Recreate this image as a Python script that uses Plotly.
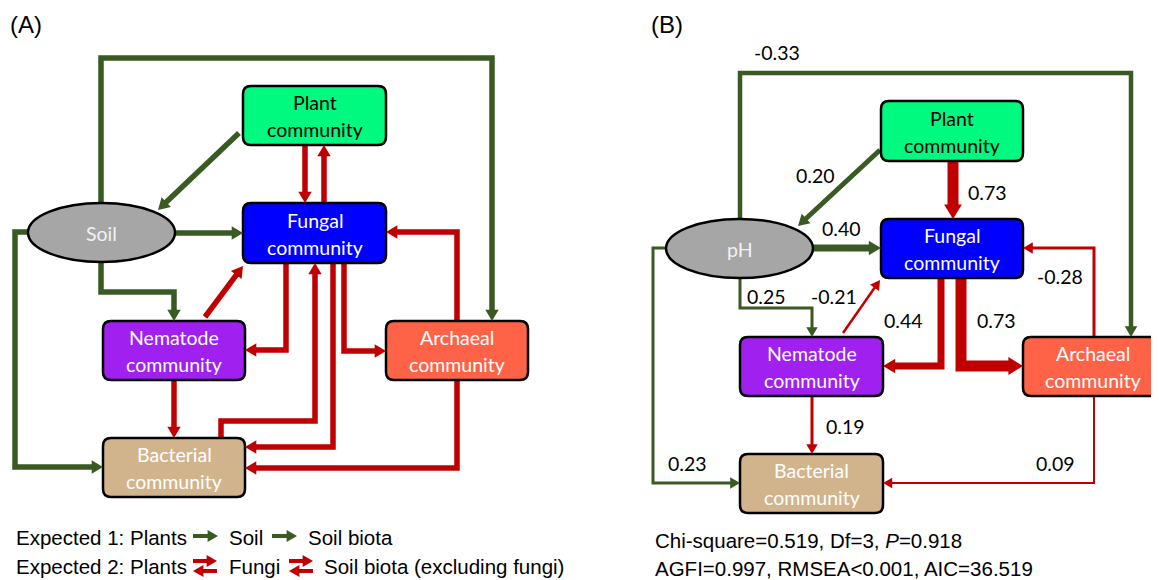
import plotly.graph_objects as go

# ---------------- data ----------------
panel_titles = ["(A)", "(B)"]
node_keys = ["plant", "fungal", "soil", "nematode", "archaeal", "bacterial"]
node_line1 = ["Plant", "Fungal", "Soil", "Nematode", "Archaeal", "Bacterial"]
node_line2 = ["community", "community", "", "community", "community", "community"]
node_line1_B = ["Plant", "Fungal", "pH", "Nematode", "Archaeal", "Bacterial"]

# Panel B standardized path coefficients (edge order below)
coef_B = [-0.33, 0.20, 0.40, 0.25, 0.23, 0.73, -0.21, 0.44, 0.73, -0.28, 0.19, 0.09]

legend_row1 = ["Expected 1: Plants", "Soil", "Soil biota"]
legend_row2 = ["Expected 2: Plants", "Fungi", "Soil biota (excluding fungi)"]

fit_chi_square = 0.519
fit_df = 3
fit_p = 0.918
fit_agfi = 0.997
fit_rmsea = "<0.001"
fit_aic = 36.519

# ---------------- styles / layout geometry ----------------
GREEN = "#3A5A24"
RED = "#C00000"
node_fill = {"plant": "#00FA80", "fungal": "#0000FF", "soil": "#A6A6A6",
             "nematode": "#A020F0", "archaeal": "#FF6347", "bacterial": "#D2B48C"}
node_text_color = {"plant": "black", "fungal": "white", "soil": "#F2F2F2",
                   "nematode": "white", "archaeal": "white", "bacterial": "white"}

boxes_A = {"plant": (243, 86, 386, 145), "fungal": (243, 203, 386, 263),
           "soil": (28, 203, 175, 262), "nematode": (103, 321, 245, 380),
           "archaeal": (386, 321, 528, 380), "bacterial": (103, 438, 245, 497)}
boxes_B = {"plant": (881, 101, 1023, 161), "fungal": (881, 219, 1023, 278),
           "soil": (666, 219, 813, 278), "nematode": (740, 337, 883, 396),
           "archaeal": (1023, 337, 1163, 396), "bacterial": (740, 454, 883, 513)}

edges_A = [
    (GREEN, [(101, 205), (101, 58), (492, 58), (492, 321)]),
    (GREEN, [(239, 133), (158, 210)]),
    (GREEN, [(175, 233), (243, 233)]),
    (GREEN, [(101, 260), (101, 292), (174, 292), (174, 321)]),
    (GREEN, [(29, 232), (15, 232), (15, 467), (103, 467)]),
    (RED, [(305, 145), (305, 203)]),
    (RED, [(324, 203), (324, 145)]),
    (RED, [(205, 317), (243, 266)]),
    (RED, [(286, 263), (286, 350), (245, 350)]),
    (RED, [(221, 438), (221, 421), (315, 421), (315, 263)]),
    (RED, [(333, 263), (333, 447), (245, 447)]),
    (RED, [(344, 263), (344, 351), (386, 351)]),
    (RED, [(457, 321), (457, 232), (386, 232)]),
    (RED, [(457, 380), (457, 468), (245, 468)]),
    (RED, [(174, 380), (174, 438)]),
]
width_A = 5.5

# panel B edges: colour, width, path, label position
edges_B = [
    (GREEN, 4.5, [(740, 221), (740, 73), (1131, 73), (1131, 337)], (777, 52)),
    (GREEN, 5, [(880, 150), (798, 226)], (815, 175)),
    (GREEN, 7, [(812, 248), (881, 248)], (841, 228)),
    (GREEN, 3, [(740, 276), (740, 308), (812, 308), (812, 337)], (766, 296)),
    (GREEN, 3, [(667, 248), (653, 248), (653, 483), (740, 483)], (687, 463)),
    (RED, 11, [(953, 161), (953, 219)], (987, 192)),
    (RED, 2.5, [(843, 333), (880, 280)], (834, 296)),
    (RED, 7, [(941, 278), (941, 366), (883, 366)], (903, 320)),
    (RED, 11, [(961, 278), (961, 366), (1023, 366)], (996, 320)),
    (RED, 3, [(1094, 337), (1094, 248), (1023, 248)], (1060, 276)),
    (RED, 3, [(812, 396), (812, 454)], (845, 426)),
    (RED, 2, [(1094, 396), (1094, 483), (883, 483)], (1055, 463)),
]

BOX_FONT = "Lato, 'Open Sans', sans-serif"
ARIAL = "Liberation Sans, Arial, sans-serif"

# the page body adds an 8 px margin; shift the data window to compensate
PAGE_OFFSET = 8
W, H = 1159, 580

shapes = []
annotations = []


def head_dims(w):
    return 8 + 0.6 * w, 4.5 + 0.4 * w


def add_arrow(pts, color, w, layer_list):
    L, hw = head_dims(w)
    (xa, ya), (xb, yb) = pts[-2], pts[-1]
    dx, dy = xb - xa, yb - ya
    n = (dx * dx + dy * dy) ** 0.5
    ux, uy = dx / n, dy / n
    end = (xb - ux * L * 0.7, yb - uy * L * 0.7)
    line_pts = list(pts[:-1]) + [end]
    d = "M " + " L ".join(f"{x:.2f},{y:.2f}" for x, y in line_pts)
    shapes.append(dict(type="path", path=d, xref="x", yref="y",
                       line=dict(color=color, width=w), fillcolor="rgba(0,0,0,0)"))
    bx, by = xb - ux * L, yb - uy * L
    px, py = -uy, ux
    tri = (f"M {xb:.2f},{yb:.2f} L {bx + px * hw:.2f},{by + py * hw:.2f} "
           f"L {bx - px * hw:.2f},{by - py * hw:.2f} Z")
    layer_list.append(dict(type="path", path=tri, xref="x", yref="y",
                           line=dict(color=color, width=0), fillcolor=color))


def rounded_rect(x0, y0, x1, y1, r=8):
    return (f"M {x0 + r},{y0} L {x1 - r},{y0} Q {x1},{y0} {x1},{y0 + r} "
            f"L {x1},{y1 - r} Q {x1},{y1} {x1 - r},{y1} L {x0 + r},{y1} "
            f"Q {x0},{y1} {x0},{y1 - r} L {x0},{y0 + r} Q {x0},{y0} {x0 + r},{y0} Z")


def add_nodes(boxes, line1):
    for key, l1, l2 in zip(node_keys, line1, node_line2):
        x0, y0, x1, y1 = boxes[key]
        if key == "soil":
            shapes.append(dict(type="circle", xref="x", yref="y", x0=x0, y0=y0, x1=x1, y1=y1,
                               fillcolor=node_fill[key], line=dict(color="black", width=2.5)))
        else:
            shapes.append(dict(type="path", xref="x", yref="y", path=rounded_rect(x0, y0, x1, y1),
                               fillcolor=node_fill[key], line=dict(color="black", width=2.5)))
        cx, cy = (x0 + x1) / 2, (y0 + y1) / 2
        fnt = dict(family=BOX_FONT, size=19.5, color=node_text_color[key])
        if l2:
            annotations.append(dict(x=cx, y=cy - 13, text=l1, showarrow=False, xref="x", yref="y",
                                    font=fnt, xanchor="center", yanchor="middle"))
            annotations.append(dict(x=cx, y=cy + 14, text=l2, showarrow=False, xref="x", yref="y",
                                    font=fnt, xanchor="center", yanchor="middle"))
        else:
            annotations.append(dict(x=cx, y=cy + 1, text=l1, showarrow=False, xref="x", yref="y",
                                    font=fnt, xanchor="center", yanchor="middle"))


heads = []
# Panel A
for color, pts in edges_A:
    add_arrow(pts, color, width_A, heads)
add_nodes(boxes_A, node_line1)

# Panel B
for (color, w, pts, lab), v in zip(edges_B, coef_B):
    add_arrow(pts, color, w, heads)
    annotations.append(dict(x=lab[0], y=lab[1], text=f"{v:.2f}", showarrow=False, xref="x", yref="y",
                            font=dict(family=BOX_FONT, size=19.5, color="black"),
                            xanchor="center", yanchor="middle"))
add_nodes(boxes_B, node_line1_B)

shapes.extend(heads)

# Legend arrows (panel A)
leg_heads = []
for x0, x1 in [(193, 218), (272, 297)]:
    add_arrow([(x0, 536), (x1, 536)], GREEN, 4, leg_heads)
for x0, x1 in [(193, 217), (289, 313)]:
    add_arrow([(x0, 561), (x1, 561)], RED, 4, leg_heads)
    add_arrow([(x1, 571), (x0, 571)], RED, 4, leg_heads)
shapes.extend(leg_heads)

leg_x = [14, 227, 306]
for txt, x in zip(legend_row1, leg_x):
    annotations.append(dict(x=x, y=537, text=txt, showarrow=False, xref="x", yref="y",
                            font=dict(family=ARIAL, size=20.5, color="black"),
                            xanchor="left", yanchor="middle"))
leg_x2 = [14, 227, 322]
for txt, x in zip(legend_row2, leg_x2):
    annotations.append(dict(x=x, y=566, text=txt, showarrow=False, xref="x", yref="y",
                            font=dict(family=ARIAL, size=20.5, color="black"),
                            xanchor="left", yanchor="middle"))

# Fit statistics (panel B)
fit1 = f"Chi-square={fit_chi_square:.3f}, Df={fit_df}, <i>P</i>={fit_p:.3f}"
fit2 = f"AGFI={fit_agfi:.3f}, RMSEA{fit_rmsea}, AIC={fit_aic:.3f}"
for txt, y in [(fit1, 540), (fit2, 568)]:
    annotations.append(dict(x=653, y=y, text=txt, showarrow=False, xref="x", yref="y",
                            font=dict(family=ARIAL, size=20.5, color="black"),
                            xanchor="left", yanchor="middle"))

# Panel titles
for txt, x in zip(panel_titles, [8, 649]):
    annotations.append(dict(x=x, y=24, text=txt, showarrow=False, xref="x", yref="y",
                            font=dict(family=ARIAL, size=24, color="black"),
                            xanchor="left", yanchor="middle"))

fig = go.Figure()
fig.add_trace(go.Scatter(x=[PAGE_OFFSET, W], y=[PAGE_OFFSET, H], mode="markers",
                         marker=dict(opacity=0), hoverinfo="skip", showlegend=False))
fig.update_layout(
    width=W, height=H, margin=dict(l=0, r=0, t=0, b=0),
    paper_bgcolor="white", plot_bgcolor="white",
    xaxis=dict(range=[PAGE_OFFSET, W + PAGE_OFFSET], visible=False, fixedrange=True),
    yaxis=dict(range=[H + PAGE_OFFSET, PAGE_OFFSET], visible=False, fixedrange=True),
    shapes=shapes, annotations=annotations, showlegend=False,
)
fig.write_html("out.html")
